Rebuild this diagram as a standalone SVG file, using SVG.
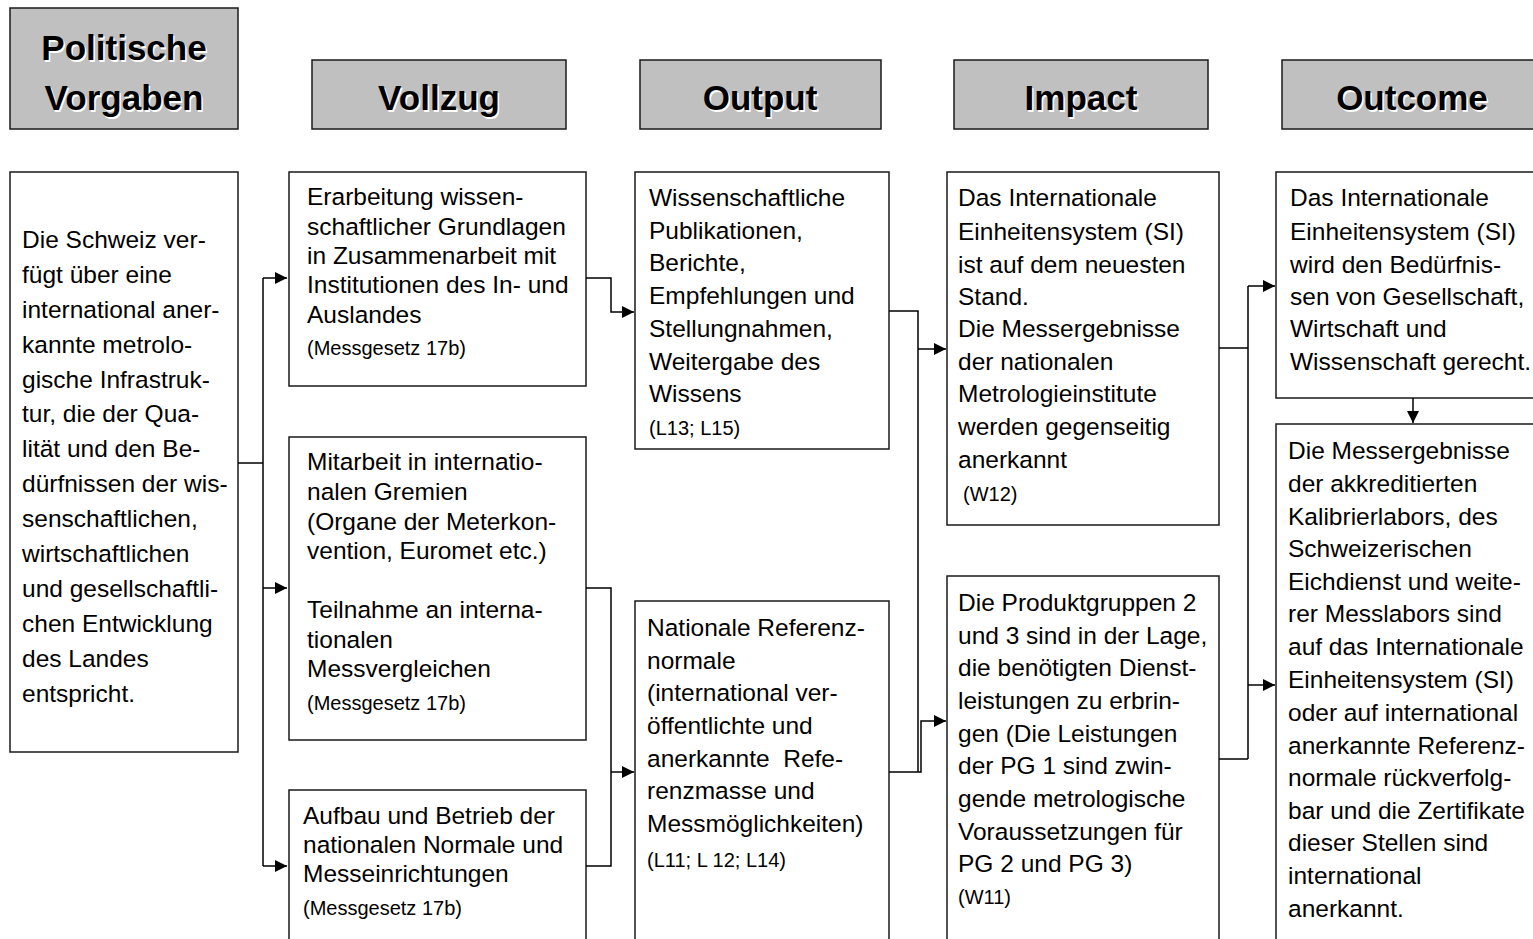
<svg xmlns="http://www.w3.org/2000/svg" width="1533" height="939" viewBox="0 0 1533 939">
<defs>
<style>
.hdr{fill:#c0c0c0;stroke:#1a1a1a;stroke-width:1.5}
.box{fill:#fff;stroke:#1a1a1a;stroke-width:1.5}
.ht{font-family:"Liberation Sans",Arial,sans-serif;font-weight:bold;font-size:35px;text-anchor:middle;fill:#000}
.hs{font-family:"Liberation Sans",Arial,sans-serif;font-weight:bold;font-size:35px;text-anchor:middle;fill:#fff}
.t{font-family:"Liberation Sans",Arial,sans-serif;font-size:24.5px;fill:#000}
.s{font-family:"Liberation Sans",Arial,sans-serif;font-size:20px;fill:#000}
.c{fill:none;stroke:#000;stroke-width:1.5}
</style>
<marker id="ar" markerWidth="13" markerHeight="12" refX="12" refY="6" orient="auto" markerUnits="userSpaceOnUse">
<path d="M0,0 L12,6 L0,12 Z" fill="#000"/>
</marker>
</defs>
<rect width="1533" height="939" fill="#fff"/>

<g id="h-politische">
<rect class="hdr" x="10" y="8" width="228" height="121"/>
<text class="hs" x="125.5" y="61.5">Politische</text><text class="ht" x="124" y="60">Politische</text>
<text class="hs" x="125.5" y="111.5">Vorgaben</text><text class="ht" x="124" y="110">Vorgaben</text>
</g>
<g id="h-vollzug">
<rect class="hdr" x="312" y="60" width="254" height="69"/>
<text class="hs" x="440.5" y="111.5">Vollzug</text><text class="ht" x="439" y="110">Vollzug</text>
</g>
<g id="h-output">
<rect class="hdr" x="640" y="60" width="241" height="69"/>
<text class="hs" x="761.5" y="111.5">Output</text><text class="ht" x="760" y="110">Output</text>
</g>
<g id="h-impact">
<rect class="hdr" x="954" y="60" width="254" height="69"/>
<text class="hs" x="1082.5" y="111.5">Impact</text><text class="ht" x="1081" y="110">Impact</text>
</g>
<g id="h-outcome">
<rect class="hdr" x="1282" y="60" width="258" height="69"/>
<text class="hs" x="1413.5" y="111.5">Outcome</text><text class="ht" x="1412" y="110">Outcome</text>
</g>

<g id="n-schweiz">
<rect class="box" x="10" y="172" width="228" height="580"/>
<text class="t" x="22" y="248">Die Schweiz ver-</text>
<text class="t" x="22" y="283">fügt über eine</text>
<text class="t" x="22" y="318">international aner-</text>
<text class="t" x="22" y="353">kannte metrolo-</text>
<text class="t" x="22" y="388">gische Infrastruk-</text>
<text class="t" x="22" y="422">tur, die der Qua-</text>
<text class="t" x="22" y="457">lität und den Be-</text>
<text class="t" x="22" y="492">dürfnissen der wis-</text>
<text class="t" x="22" y="527">senschaftlichen,</text>
<text class="t" x="22" y="562">wirtschaftlichen</text>
<text class="t" x="22" y="597">und gesellschaftli-</text>
<text class="t" x="22" y="632">chen Entwicklung</text>
<text class="t" x="22" y="667">des Landes</text>
<text class="t" x="22" y="702">entspricht.</text>
</g>

<g id="n-erarbeitung">
<rect class="box" x="289" y="172" width="297" height="214"/>
<text class="t" x="307" y="205">Erarbeitung wissen-</text>
<text class="t" x="307" y="235">schaftlicher Grundlagen</text>
<text class="t" x="307" y="264">in Zusammenarbeit mit</text>
<text class="t" x="307" y="293">Institutionen des In- und</text>
<text class="t" x="307" y="323">Auslandes</text>
<text class="s" x="307" y="355">(Messgesetz 17b)</text>
</g>

<g id="n-mitarbeit">
<rect class="box" x="289" y="437" width="297" height="303"/>
<text class="t" x="307" y="470">Mitarbeit in internatio-</text>
<text class="t" x="307" y="500">nalen Gremien</text>
<text class="t" x="307" y="530">(Organe der Meterkon-</text>
<text class="t" x="307" y="559">vention, Euromet etc.)</text>
<text class="t" x="307" y="618">Teilnahme an interna-</text>
<text class="t" x="307" y="648">tionalen</text>
<text class="t" x="307" y="677">Messvergleichen</text>
<text class="s" x="307" y="710">(Messgesetz 17b)</text>
</g>

<g id="n-aufbau">
<rect class="box" x="289" y="790" width="297" height="160"/>
<text class="t" x="303" y="824">Aufbau und Betrieb der</text>
<text class="t" x="303" y="853">nationalen Normale und</text>
<text class="t" x="303" y="882">Messeinrichtungen</text>
<text class="s" x="303" y="915">(Messgesetz 17b)</text>
</g>

<g id="n-publikationen">
<rect class="box" x="635" y="172" width="254" height="277"/>
<text class="t" x="649" y="206">Wissenschaftliche</text>
<text class="t" x="649" y="239">Publikationen,</text>
<text class="t" x="649" y="271">Berichte,</text>
<text class="t" x="649" y="304">Empfehlungen und</text>
<text class="t" x="649" y="337">Stellungnahmen,</text>
<text class="t" x="649" y="370">Weitergabe des</text>
<text class="t" x="649" y="402">Wissens</text>
<text class="s" x="649" y="435">(L13; L15)</text>
</g>

<g id="n-referenznormale">
<rect class="box" x="635" y="601" width="254" height="350"/>
<text class="t" x="647" y="636">Nationale Referenz-</text>
<text class="t" x="647" y="669">normale</text>
<text class="t" x="647" y="701">(international ver-</text>
<text class="t" x="647" y="734">öffentlichte und</text>
<text class="t" x="647" y="767">anerkannte &#160;Refe-</text>
<text class="t" x="647" y="799">renzmasse und</text>
<text class="t" x="647" y="832">Messmöglichkeiten)</text>
<text class="s" x="647" y="867">(L11; L 12; L14)</text>
</g>

<g id="n-si-stand">
<rect class="box" x="947" y="172" width="272" height="353"/>
<text class="t" x="958" y="206">Das Internationale</text>
<text class="t" x="958" y="240">Einheitensystem (SI)</text>
<text class="t" x="958" y="273">ist auf dem neuesten</text>
<text class="t" x="958" y="305">Stand.</text>
<text class="t" x="958" y="337">Die Messergebnisse</text>
<text class="t" x="958" y="370">der nationalen</text>
<text class="t" x="958" y="402">Metrologieinstitute</text>
<text class="t" x="958" y="435">werden gegenseitig</text>
<text class="t" x="958" y="468">anerkannt</text>
<text class="s" x="963" y="501">(W12)</text>
</g>

<g id="n-produktgruppen">
<rect class="box" x="947" y="576" width="272" height="375"/>
<text class="t" x="958" y="611">Die Produktgruppen 2</text>
<text class="t" x="958" y="644">und 3 sind in der Lage,</text>
<text class="t" x="958" y="676">die benötigten Dienst-</text>
<text class="t" x="958" y="709">leistungen zu erbrin-</text>
<text class="t" x="958" y="742">gen (Die Leistungen</text>
<text class="t" x="958" y="774">der PG 1 sind zwin-</text>
<text class="t" x="958" y="807">gende metrologische</text>
<text class="t" x="958" y="840">Voraussetzungen für</text>
<text class="t" x="958" y="872">PG 2 und PG 3)</text>
<text class="s" x="958" y="904">(W11)</text>
</g>

<g id="n-si-gerecht">
<rect class="box" x="1276" y="172" width="264" height="226"/>
<text class="t" x="1290" y="206">Das Internationale</text>
<text class="t" x="1290" y="240">Einheitensystem (SI)</text>
<text class="t" x="1290" y="273">wird den Bedürfnis-</text>
<text class="t" x="1290" y="305">sen von Gesellschaft,</text>
<text class="t" x="1290" y="337">Wirtschaft und</text>
<text class="t" x="1290" y="370">Wissenschaft gerecht.</text>
</g>

<g id="n-messergebnisse">
<rect class="box" x="1276" y="424" width="264" height="527"/>
<text class="t" x="1288" y="459">Die Messergebnisse</text>
<text class="t" x="1288" y="492">der akkreditierten</text>
<text class="t" x="1288" y="525">Kalibrierlabors, des</text>
<text class="t" x="1288" y="557">Schweizerischen</text>
<text class="t" x="1288" y="590">Eichdienst und weite-</text>
<text class="t" x="1288" y="622">rer Messlabors sind</text>
<text class="t" x="1288" y="655">auf das Internationale</text>
<text class="t" x="1288" y="688">Einheitensystem (SI)</text>
<text class="t" x="1288" y="721">oder auf international</text>
<text class="t" x="1288" y="754">anerkannte Referenz-</text>
<text class="t" x="1288" y="786">normale rückverfolg-</text>
<text class="t" x="1288" y="819">bar und die Zertifikate</text>
<text class="t" x="1288" y="851">dieser Stellen sind</text>
<text class="t" x="1288" y="884">international</text>
<text class="t" x="1288" y="917">anerkannt.</text>
</g>

<g id="connectors">
<path class="c" d="M238,463 H263 M263,278 V866"/>
<path class="c" d="M263,278 H287" marker-end="url(#ar)"/>
<path class="c" d="M263,588 H287" marker-end="url(#ar)"/>
<path class="c" d="M263,866 H287" marker-end="url(#ar)"/>
<path class="c" d="M586,278 H611 V312 H634" marker-end="url(#ar)"/>
<path class="c" d="M586,588 H611 V866 H586"/>
<path class="c" d="M611,772 H634" marker-end="url(#ar)"/>
<path class="c" d="M889,311 H918 V772"/>
<path class="c" d="M918,349 H946" marker-end="url(#ar)"/>
<path class="c" d="M889,772 H921 V721 H946" marker-end="url(#ar)"/>
<path class="c" d="M1219,348 H1248 M1219,759 H1248 M1248,286 V759"/>
<path class="c" d="M1248,286 H1275" marker-end="url(#ar)"/>
<path class="c" d="M1248,685 H1275" marker-end="url(#ar)"/>
<path class="c" d="M1413,398 V423" marker-end="url(#ar)"/>
</g>
</svg>
